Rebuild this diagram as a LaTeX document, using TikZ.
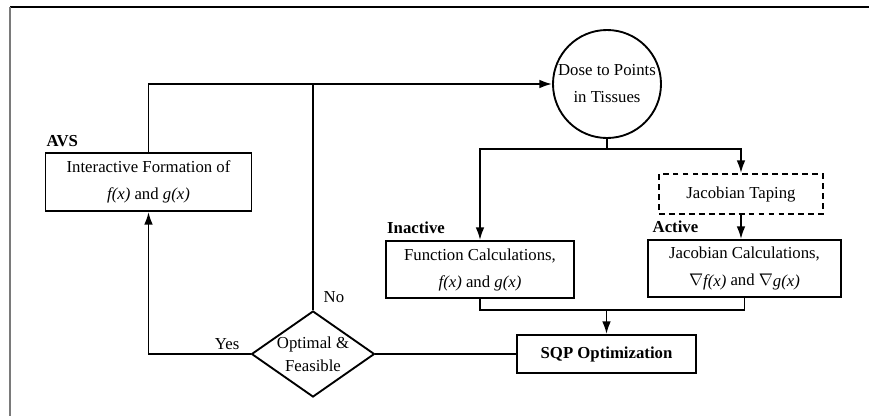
\documentclass[tikz,border=0pt]{standalone}
\usepackage{fontspec}
\setmainfont{Liberation Serif}
\usetikzlibrary{arrows.meta, positioning, shapes.geometric, calc}
\definecolor{cframe}{HTML}{7A7A7A}
\tikzset{
  every picture/.style={line width=1.6pt},
  box/.style={draw, rectangle, align=center, inner sep=2pt, font=\fontsize{14.3}{23}\selectfont},
  arrow/.style={-{Latex[length=3.8mm, width=2.6mm]}},
  tag/.style={font=\fontsize{14.3}{17}\selectfont\bfseries, inner sep=1pt, anchor=south west},
  note/.style={font=\fontsize{14.3}{17}\selectfont},
}

\begin{document}
\begin{tikzpicture}[x=0.03cm, y=-0.03cm]
  \useasboundingbox (0,0) rectangle (869,416);
  \draw (10,7) -- (869,7);
  \draw[cframe] (10,7) -- (10,416);
  \node[box, minimum width=6.18cm, minimum height=1.74cm] (avs) at (148.5,182) {Interactive Formation of\\\textit{f(x)} and \textit{g(x)}};
  \node[box, circle, minimum size=3.24cm, inner sep=0pt] (dose) at (607,84) {Dose to Points\\in Tissues};
  \node[box, dash pattern=on 5pt off 3.5pt, minimum width=4.92cm, minimum height=1.2cm] (taping) at (741,194) {Jacobian Taping};
  \node[box, minimum width=5.64cm, minimum height=1.71cm] (inactive) at (480,269.5) {Function Calculations,\\\textit{f(x)} and \textit{g(x)}};
  \node[box, minimum width=5.79cm, minimum height=1.71cm] (active) at (744.5,268.5) {Jacobian Calculations,\\$\nabla$\raisebox{-1.5pt}{\textit{f(x)}} and $\nabla$\raisebox{-1.5pt}{\textit{g(x)}}};
  \node[box, minimum width=5.37cm, minimum height=1.14cm, font=\fontsize{14.3}{17}\selectfont\bfseries] (sqp) at (606.5,354) {SQP Optimization};
  \node[box, diamond, aspect=1.43, minimum width=3.69cm, minimum height=2.58cm, inner sep=-3pt, font=\fontsize{14.3}{20}\selectfont] (opt) at (313,354) {Optimal \&\\Feasible};
  \node[tag, yshift=3pt] at (avs.north west) {AVS};
  \node[tag, yshift=4pt] at (inactive.north west) {Inactive};
  \node[tag, xshift=3pt, yshift=4pt] at (active.north west) {Active};
  \coordinate (fork) at (opt.north |- dose.west);
  \coordinate (split) at (dose.south |- 0,149);
  \coordinate (join) at (sqp.north |- 0,310);
  \draw[arrow] (avs.north) |- (dose.west);
  \draw (opt.north) -- node[at start, anchor=south west, xshift=5pt, yshift=2pt, note] {No} (fork);
  \draw (dose.south) -- (split);
  \draw[arrow] (split) -| (inactive.north);
  \draw[arrow] (split) -| (taping.north);
  \draw[arrow] (taping.south) -- (taping.south |- active.north);
  \draw (inactive.south) |- (join) -| (active.south);
  \draw[arrow] (join) -- (sqp.north);
  \draw (opt.east) -- (sqp.west);
  \draw[arrow] (opt.west) -| node[pos=0.115, above, note] {Yes} (avs.south);
\end{tikzpicture}
\end{document}
